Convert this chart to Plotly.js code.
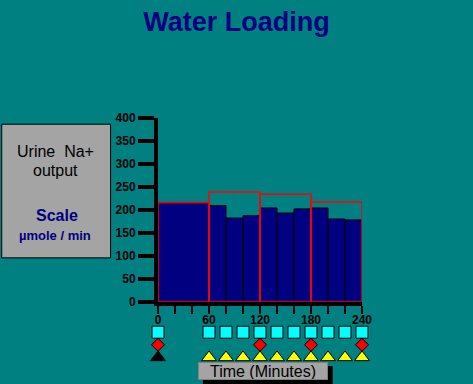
<!DOCTYPE html>
<html>
<head>
<meta charset="utf-8">
<script src="https://cdn.plot.ly/plotly-3.0.1.min.js"></script>
<style>html,body{margin:0;padding:0;background:#008080;}#chart{width:473px;height:384px;}</style>
</head>
<body>
<div id="chart"></div>
<script>
// ---- data ----
const binStart = [0, 60, 80, 100, 120, 140, 160, 180, 200, 220];
const binWidth = [60, 20, 20, 20, 20, 20, 20, 20, 20, 20];
const naOutput = [216, 209, 182, 187, 204, 193, 202, 204, 180, 178];

const periodStart = [0, 60, 120, 180];
const periodWidth = [60, 60, 60, 60];
const periodValues = [216, 239, 234, 217];

const xTickVals = [0, 20, 40, 60, 80, 100, 120, 140, 160, 180, 200, 220, 240];
const xTickText = ['0', '', '', '60', '', '', '120', '', '', '180', '', '', '240'];

const squareTimes = [0, 60, 80, 100, 120, 140, 160, 180, 200, 220, 240];
const diamondTimes = [0, 120, 180, 240];
const blackTriTimes = [0];
const yellowTriTimes = [60, 80, 100, 120, 140, 160, 180, 200, 220, 240];

// ---- layout geometry ----
const W = 473, H = 384;
const L = 158, R = 110.7, T = 118.3, B = 14;
const PW = W - L - R, PH = H - T - B;
const px = v => (v - L) / PW;
const py = v => (H - B - v) / PH;
const mainBottom = py(301.7);

const FONT = 'Arial, "Liberation Sans", sans-serif';
const row = (arr, v) => arr.map(() => v);

const traces = [
  {type: 'bar', x: binStart, y: naOutput, width: binWidth, offset: 0,
   marker: {color: '#000080', line: {color: '#000000', width: 1}}, xaxis: 'x', yaxis: 'y', hoverinfo: 'skip'},
  {type: 'bar', x: periodStart, y: periodValues, width: periodWidth, offset: 0,
   marker: {color: 'rgba(0,0,0,0)', line: {color: '#FF0000', width: 1.5}}, xaxis: 'x', yaxis: 'y', hoverinfo: 'skip'},
  {type: 'scatter', mode: 'markers', x: squareTimes, y: row(squareTimes, 3), xaxis: 'x2', yaxis: 'y2', cliponaxis: false,
   marker: {symbol: 'square', size: 12, color: '#00FFFF', line: {color: '#000000', width: 1}}},
  {type: 'scatter', mode: 'markers', x: diamondTimes, y: row(diamondTimes, 2), xaxis: 'x2', yaxis: 'y2', cliponaxis: false,
   marker: {symbol: 'diamond', size: 10, color: '#FF0000', line: {color: '#000000', width: 1}}},
  {type: 'scatter', mode: 'markers', x: blackTriTimes, y: row(blackTriTimes, 1), xaxis: 'x2', yaxis: 'y2', cliponaxis: false,
   marker: {symbol: 'triangle-up', size: 13, color: '#000000', line: {color: '#000000', width: 1}}},
  {type: 'scatter', mode: 'markers', x: yellowTriTimes, y: row(yellowTriTimes, 1), xaxis: 'x2', yaxis: 'y2', cliponaxis: false,
   marker: {symbol: 'triangle-up', size: 13, color: '#FFFF00', line: {color: '#000000', width: 1}}}
];

const ann = (text, x, y, size, color, bold) => ({
  text: text, xref: 'paper', yref: 'paper', x: px(x), y: py(y), xanchor: 'center', yanchor: 'middle',
  showarrow: false, font: {family: FONT, size: size, color: color, weight: bold ? 'bold' : 'normal'}
});

const timeBox = ann('Time (Minutes)', 263.5, 370.5, 16, '#000000', false);
Object.assign(timeBox, {width: 128, height: 16, bgcolor: '#A4A4A4', borderpad: 0, borderwidth: 1, bordercolor: '#808080'});

const layout = {
  width: W, height: H,
  paper_bgcolor: '#008080', plot_bgcolor: 'rgba(0,0,0,0)',
  margin: {l: L, r: R, t: T, b: B, pad: 0},
  showlegend: false,
  barmode: 'overlay',
  font: {family: FONT, color: '#000000'},
  title: {text: 'Water Loading', font: {family: FONT, size: 27, color: '#000080', weight: 'bold'},
          xref: 'container', x: 0.5, xanchor: 'center', yref: 'container', y: 1 - 22 / H, yanchor: 'middle'},
  xaxis: {range: [0, 240], anchor: 'y', tickmode: 'array', tickvals: xTickVals, ticktext: xTickText,
          ticks: 'outside', ticklen: 8, tickwidth: 2, tickcolor: '#000000', ticklabelstandoff: -4,
          showline: true, linewidth: 4, linecolor: '#000000', showgrid: false, zeroline: false,
          tickfont: {family: FONT, size: 12, color: '#000000', weight: 'bold'}, fixedrange: true},
  yaxis: {range: [0, 400], domain: [mainBottom, 1], dtick: 50, tick0: 0, anchor: 'x',
          ticks: 'outside', ticklen: 16, tickwidth: 4, tickcolor: '#000000',
          showline: true, linewidth: 4, linecolor: '#000000', showgrid: false, zeroline: false,
          tickfont: {family: FONT, size: 12, color: '#000000', weight: 'bold'}, fixedrange: true},
  xaxis2: {matches: 'x', anchor: 'y2', visible: false, range: [0, 240]},
  yaxis2: {domain: [0, py(319.7)], range: [0, 4], visible: false, fixedrange: true},
  shapes: [
    {type: 'rect', xref: 'paper', yref: 'paper', x0: px(1.5), x1: px(110.5), y0: py(258), y1: py(124.5),
     fillcolor: '#A4A4A4', line: {color: '#000000', width: 1}, layer: 'below'},
    {type: 'rect', xref: 'paper', yref: 'paper', x0: px(203), x1: px(333), y0: py(384), y1: py(366),
     fillcolor: '#000000', line: {width: 0}, layer: 'below'}
  ],
  annotations: [
    ann('Urine  Na+', 55, 152, 16, '#000000', false),
    ann('output', 55, 171, 16, '#000000', false),
    ann('Scale', 57, 216, 16, '#000080', true),
    ann('µmole / min', 55, 236, 13, '#000080', true),
    timeBox
  ]
};

Plotly.newPlot('chart', traces, layout, {displayModeBar: false, staticPlot: true});
</script>
</body>
</html>
